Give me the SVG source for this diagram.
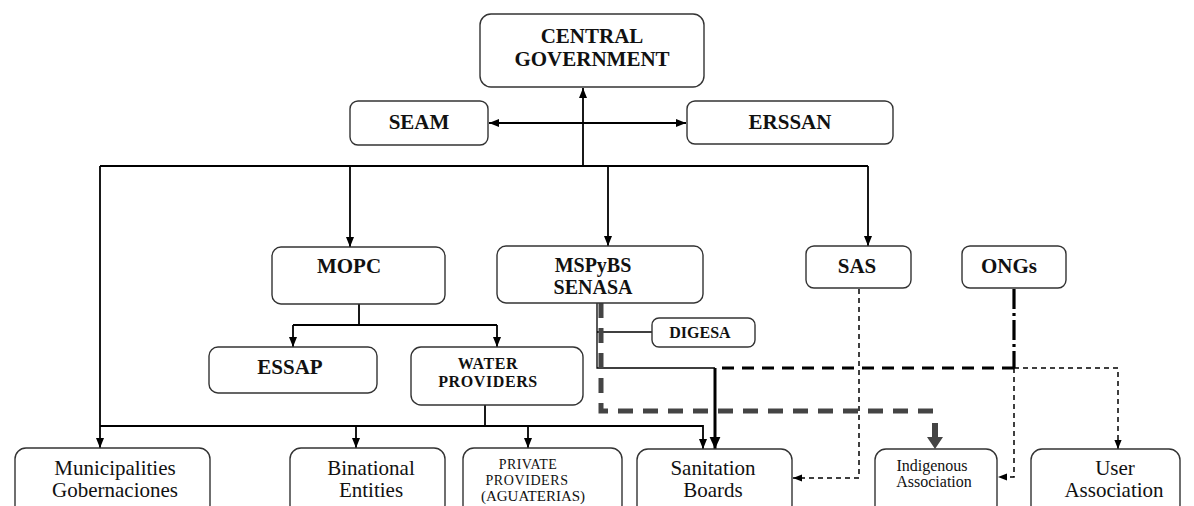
<svg xmlns="http://www.w3.org/2000/svg" width="1194" height="506" viewBox="0 0 1194 506">
<style>
  .box { fill: #ffffff; stroke: #333333; stroke-width: 1.4; }
  .t { font-family: "Liberation Serif", "Times New Roman", serif; fill: #111111; text-anchor: middle; }
  .b { font-weight: bold; }
  .ln { fill: none; stroke: #000000; stroke-width: 1.8; }
  .thin { fill: none; stroke: #000000; stroke-width: 1.3; }
  .thick { fill: none; stroke: #000000; stroke-width: 3; }
  .dsh { fill: none; stroke: #000000; stroke-width: 1.5; stroke-dasharray: 5 4; }
  .tdsh { fill: none; stroke: #000000; stroke-width: 3; stroke-dasharray: 12 8; }
  .ddsh { fill: none; stroke: #000000; stroke-width: 3.2; stroke-dasharray: 20 4 3 4; }
  .gdsh { fill: none; stroke: #444444; stroke-width: 5; stroke-dasharray: 15 10; }
</style>
<defs>
  <marker id="ah" viewBox="0 0 10 10" refX="10" refY="5" markerWidth="10" markerHeight="10" markerUnits="userSpaceOnUse" orient="auto-start-reverse">
    <path d="M0,1 L10,5 L0,9 z" fill="#000"/>
  </marker>
  <marker id="ahs" viewBox="0 0 10 10" refX="10" refY="5" markerWidth="9" markerHeight="9" markerUnits="userSpaceOnUse" orient="auto">
    <path d="M0,1 L10,5 L0,9 z" fill="#000"/>
  </marker>
  <marker id="ahb" viewBox="0 0 10 10" refX="10" refY="5" markerWidth="12" markerHeight="12" markerUnits="userSpaceOnUse" orient="auto">
    <path d="M0,0.5 L10,5 L0,9.5 z" fill="#000"/>
  </marker>
</defs>

<g id="connectors">
  <path class="ln" d="M583,166 V88" marker-end="url(#ah)"/>
  <path class="ln" d="M489,123 H686" marker-start="url(#ah)" marker-end="url(#ah)"/>
  <path class="ln" d="M100,166 H868"/>
  <path class="ln" d="M100,166 V448" marker-end="url(#ah)"/>
  <path class="ln" d="M350,166 V247" marker-end="url(#ah)"/>
  <path class="ln" d="M608,166 V246" marker-end="url(#ah)"/>
  <path class="ln" d="M868,166 V246" marker-end="url(#ah)"/>
  <path class="ln" d="M359,304 V325"/>
  <path class="ln" d="M293,325 H497"/>
  <path class="ln" d="M293,325 V347" marker-end="url(#ah)"/>
  <path class="ln" d="M497,325 V347" marker-end="url(#ah)"/>
  <path class="ln" d="M485,405 V426"/>
  <path class="ln" d="M100,426 H703 V449" marker-end="url(#ah)"/>
  <path class="ln" d="M356,426 V448" marker-end="url(#ah)"/>
  <path class="ln" d="M528,426 V448" marker-end="url(#ah)"/>
  <path class="thin" d="M597,303 V368 H715"/>
  <path class="thin" d="M597,332 H652"/>
  <path class="thick" d="M715,368 V449" marker-end="url(#ahb)"/>
  <path class="ddsh" d="M1014,289 V368"/>
  <path class="tdsh" d="M1014,368 H715"/>
  <path class="dsh" d="M1014,368 V477 H998" marker-end="url(#ahs)"/>
  <path class="dsh" d="M1014,368 H1118 V449" marker-end="url(#ahs)"/>
  <path class="dsh" d="M859,289 V478 H793" marker-end="url(#ahs)"/>
  <path class="gdsh" d="M601,303 V411 H938"/>
  <path d="M932,423 H938 V437 H943 L935,449 L927,437 H932 Z" fill="#444444"/>
</g>

<g id="central-government">
  <rect class="box" x="480" y="14" width="224" height="73" rx="11"/>
  <text class="t b" x="592" y="43" font-size="21">CENTRAL</text>
  <text class="t b" x="592" y="66" font-size="21">GOVERNMENT</text>
</g>
<g id="seam">
  <rect class="box" x="350" y="101" width="138" height="44" rx="8"/>
  <text class="t b" x="419" y="129" font-size="21">SEAM</text>
</g>
<g id="erssan">
  <rect class="box" x="687" y="101" width="206" height="43" rx="8"/>
  <text class="t b" x="790" y="129" font-size="21">ERSSAN</text>
</g>
<g id="mopc">
  <rect class="box" x="272" y="247" width="173" height="57" rx="9"/>
  <text class="t b" x="349" y="273" font-size="21">MOPC</text>
</g>
<g id="mspybs-senasa">
  <rect class="box" x="497" y="246" width="206" height="57" rx="9"/>
  <text class="t b" x="593" y="272" font-size="20">MSPyBS</text>
  <text class="t b" x="593" y="294" font-size="20">SENASA</text>
</g>
<g id="sas">
  <rect class="box" x="806" y="246" width="105" height="42" rx="8"/>
  <text class="t b" x="857" y="273" font-size="21">SAS</text>
</g>
<g id="ongs">
  <rect class="box" x="962" y="246" width="104" height="42" rx="8"/>
  <text class="t b" x="1009" y="273" font-size="21">ONGs</text>
</g>
<g id="digesa">
  <rect class="box" x="652" y="318" width="103" height="29" rx="7"/>
  <text class="t b" x="700" y="338" font-size="16">DIGESA</text>
</g>
<g id="essap">
  <rect class="box" x="209" y="347" width="168" height="46" rx="9"/>
  <text class="t b" x="290" y="374" font-size="21">ESSAP</text>
</g>
<g id="water-providers">
  <rect class="box" x="411" y="347" width="172" height="58" rx="10"/>
  <text class="t b" x="488" y="369" font-size="16" letter-spacing="0.6">WATER</text>
  <text class="t b" x="488" y="387" font-size="16" letter-spacing="0.6">PROVIDERS</text>
</g>
<g id="municipalities">
  <rect class="box" x="15" y="448" width="195" height="68" rx="11"/>
  <text class="t" x="115" y="475" font-size="21">Municipalities</text>
  <text class="t" x="115" y="497" font-size="21">Gobernaciones</text>
</g>
<g id="binational">
  <rect class="box" x="290" y="448" width="155" height="68" rx="11"/>
  <text class="t" x="371" y="475" font-size="21">Binational</text>
  <text class="t" x="371" y="497" font-size="21">Entities</text>
</g>
<g id="private-providers">
  <rect class="box" x="463" y="448" width="159" height="68" rx="11"/>
  <text class="t" x="528" y="469" font-size="14" letter-spacing="0.4">PRIVATE</text>
  <text class="t" x="527" y="485" font-size="14" letter-spacing="0.6">PROVIDERS</text>
  <text class="t" x="533" y="501" font-size="15">(AGUATERIAS)</text>
</g>
<g id="sanitation-boards">
  <rect class="box" x="637" y="449" width="155" height="67" rx="11"/>
  <text class="t" x="713" y="475" font-size="21">Sanitation</text>
  <text class="t" x="713" y="497" font-size="21">Boards</text>
</g>
<g id="indigenous-association">
  <rect class="box" x="875" y="449" width="122" height="67" rx="11"/>
  <text class="t" x="932" y="471" font-size="16">Indigenous</text>
  <text class="t" x="934" y="487" font-size="16">Association</text>
</g>
<g id="user-association">
  <rect class="box" x="1031" y="449" width="149" height="67" rx="11"/>
  <text class="t" x="1115" y="475" font-size="21">User</text>
  <text class="t" x="1114" y="497" font-size="21">Association</text>
</g>
</svg>
